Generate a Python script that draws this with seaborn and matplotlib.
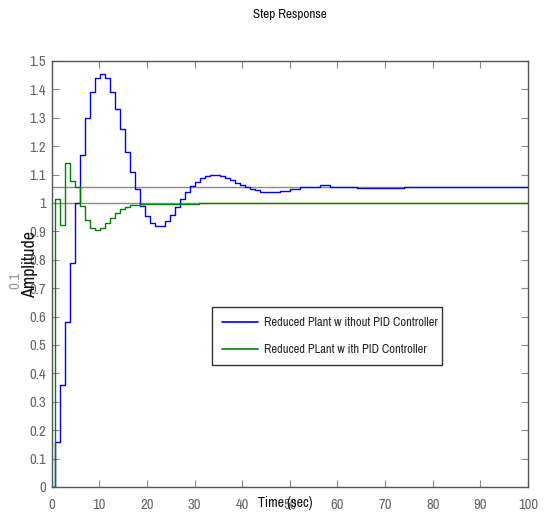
import numpy as np
import pandas as pd
import matplotlib
matplotlib.use("Agg")
import matplotlib.pyplot as plt
import seaborn as sns

# ---- data (change points of step responses: time, value held until next time) ----
blue_t = [0, 0.7, 1.75, 2.8, 3.85, 4.9, 5.95, 7.0, 8.05, 9.1, 10.15, 11.2, 12.25, 13.3,
          14.35, 15.4, 16.45, 17.5, 18.55, 19.6, 20.65, 21.7, 23.8, 24.85, 25.9, 26.95,
          28.0, 29.05, 30.1, 31.15, 32.2, 33.25, 35.35, 36.4, 37.45, 38.5, 39.55, 40.6,
          41.65, 42.7, 43.75, 47.95, 50.05, 52.15, 56.35, 58.45, 64.0, 74.0, 100]
blue_y = [0, 0.16, 0.36, 0.58, 0.79, 1.00, 1.17, 1.30, 1.39, 1.44, 1.455, 1.44, 1.39, 1.33,
          1.26, 1.18, 1.11, 1.05, 0.99, 0.955, 0.93, 0.918, 0.935, 0.958, 0.985, 1.015,
          1.04, 1.06, 1.075, 1.088, 1.095, 1.10, 1.095, 1.088, 1.08, 1.07, 1.062, 1.055,
          1.05, 1.045, 1.04, 1.043, 1.05, 1.057, 1.062, 1.057, 1.052, 1.055, 1.055]

green_t = [0, 0.7, 1.75, 2.8, 3.85, 4.9, 5.95, 7.0, 8.05, 9.1, 10.15, 11.2, 12.25, 13.3,
           14.35, 15.4, 16.45, 18.55, 23.0, 31.0, 100]
green_y = [0, 1.014, 0.923, 1.14, 1.076, 1.055, 0.99, 0.94, 0.911, 0.906, 0.911, 0.928,
           0.946, 0.963, 0.979, 0.987, 0.993, 0.995, 0.997, 1.0, 1.0]

series_names = ["Reduced Plant w ithout PID Controller", "Reduced PLant w ith PID Controller"]
ref_levels = [1.0, 1.055]
x_ticks = list(range(0, 101, 10))
y_ticks = [round(v * 0.1, 1) for v in range(0, 16)]

df = pd.concat([
    pd.DataFrame({"t": blue_t, "y": blue_y, "s": series_names[0]}),
    pd.DataFrame({"t": green_t, "y": green_y, "s": series_names[1]}),
], ignore_index=True)

sns.set_theme(style="white")
plt.rcParams["font.family"] = ["Archivo Narrow", "Liberation Sans", "DejaVu Sans"]

fig = plt.figure(figsize=(5.44, 5.15), dpi=100)
ax = fig.add_axes([0.095, 0.0544, 0.8756, 0.8272])

for lv in ref_levels:
    ax.axhline(lv, color="#8c8c8c", lw=1.0, zorder=1)

sns.lineplot(data=df, x="t", y="y", hue="s", palette=["#0000ff", "#008000"],
             drawstyle="steps-post", estimator=None, sort=False, lw=1.0, ax=ax, zorder=3)

ax.set_xlim(0, 100)
ax.set_ylim(0, 1.5)
ax.set_xticks(x_ticks)
ax.set_yticks(y_ticks)
ax.set_xticklabels([f"{v:g}" for v in x_ticks])
ax.set_yticklabels([f"{v:g}" for v in y_ticks])
ax.tick_params(direction="in", length=5, width=0.8, color="#888888", labelcolor="#666666",
               labelsize=10.5, top=True, right=True, bottom=True, left=True)
ax.tick_params(axis="x", pad=8)
ax.tick_params(axis="y", pad=4)
for sp in ax.spines.values():
    sp.set_color("#555555")
    sp.set_linewidth(1.0)

ax.set_title("Step Response", fontsize=9.5, color="#111111", pad=31)
ax.set_xlabel("Time (sec)", fontsize=10, color="#111111")
ax.xaxis.set_label_coords(0.49, -0.021)
ax.set_ylabel("Amplitude", fontsize=13, color="#111111")
ax.yaxis.set_label_coords(-0.028, 0.523)
fig.text(15 / 544, 1 - 280 / 515, "0.1", rotation=90, color="#999999", fontsize=11,
         ha="center", va="center")

leg = ax.legend(loc="lower left", bbox_to_anchor=(0.336, 0.286, 0.483, 0.144),
                mode="expand", frameon=True, fancybox=False, fontsize=9,
                handlelength=2.9, handletextpad=0.45, borderaxespad=0, labelspacing=1.3,
                borderpad=0.8)
leg.get_frame().set_edgecolor("#000000")
leg.get_frame().set_linewidth(1.0)
for h in leg.get_lines():
    h.set_linewidth(1.2)

fig.savefig("out.png", dpi=100)
